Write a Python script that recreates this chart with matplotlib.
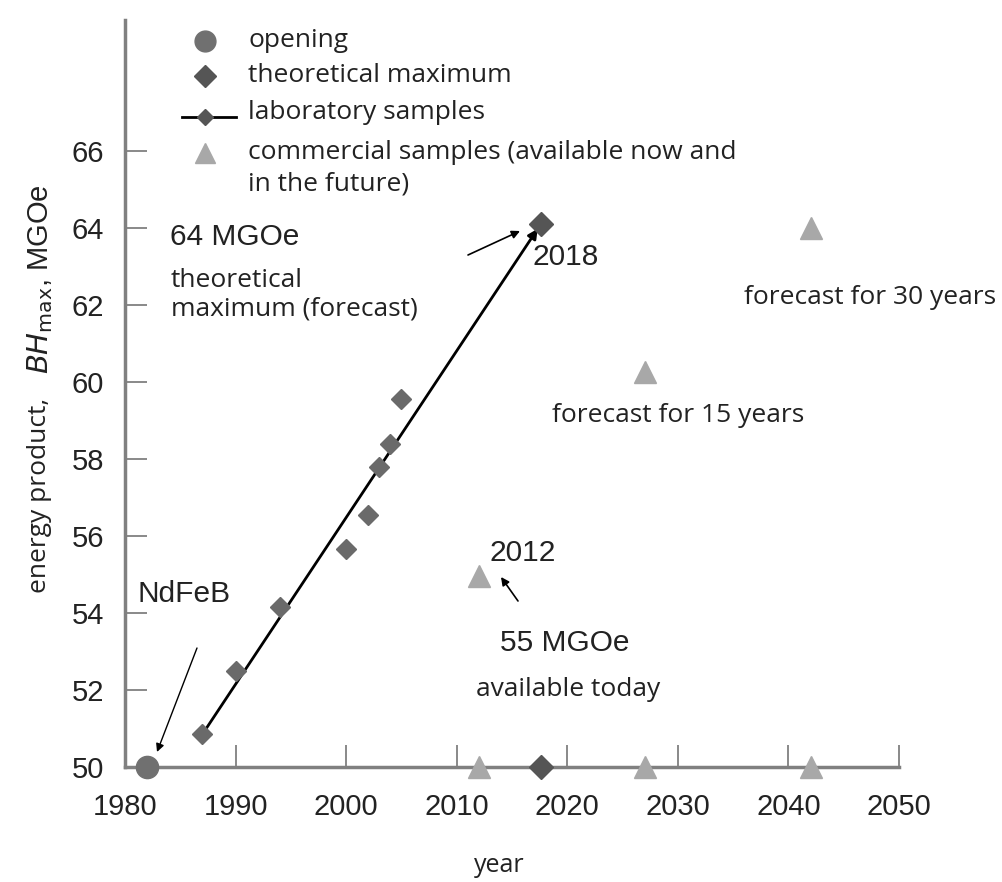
import matplotlib
matplotlib.use("Agg")
import matplotlib.pyplot as plt

# ---- data ----
opening_x = [1982]
opening_y = [50]
theo_x = [2017.6, 2017.6]
theo_y = [50, 64.1]
lab_x = [1987, 1990, 1994, 2000, 2002, 2003, 2004, 2005, 2017.6]
lab_y = [50.85, 52.5, 54.15, 55.65, 56.55, 57.8, 58.4, 59.55, 64.1]
comm_x = [2012, 2027, 2042]
comm_y = [54.95, 60.25, 64.0]
comm_base_x = [2012, 2027, 2042]
comm_base_y = [50, 50, 50]
xticks = [1980, 1990, 2000, 2010, 2020, 2030, 2040, 2050]
yticks = [50, 52, 54, 56, 58, 60, 62, 64, 66]

W, H = 1003, 882
fig = plt.figure(figsize=(W / 100, H / 100), dpi=100)
ax = fig.add_axes([125 / W, 1 - 767 / H, (899 - 125) / W, (767 - 20) / H])
ax.set_xlim(1980, 2050)
ax.set_ylim(50, 50 + (767 - 20) / 38.5)

SANS = "Liberation Sans"
OPEN = "Open Sans"
axis_c = "#808080"
txt_c = "#222222"

for s in ["top", "right"]:
    ax.spines[s].set_visible(False)
for s in ["left", "bottom"]:
    ax.spines[s].set_color(axis_c)
    ax.spines[s].set_linewidth(2.5)
ax.set_xticks(xticks)
ax.set_yticks(yticks)
ax.tick_params(direction="in", length=16, width=1.3, color=axis_c,
               labelsize=21)
ax.tick_params(axis="x", pad=19)
ax.tick_params(axis="y", pad=15)
for lab in ax.get_xticklabels() + ax.get_yticklabels():
    lab.set_fontfamily(SANS)
    lab.set_color(txt_c)

# ---- lab sample trend line with arrow ----
ax.annotate("", xy=(lab_x[-1], lab_y[-1]), xytext=(lab_x[0], lab_y[0]),
            arrowprops=dict(arrowstyle="-|>", color="black", lw=2,
                            mutation_scale=14, shrinkA=0, shrinkB=4),
            zorder=3)

kw = dict(linestyle="none", clip_on=False, zorder=5)
ax.plot(lab_x[:-1], lab_y[:-1], marker="D", ms=10, color="#6a6a6a", **kw)
ax.plot(theo_x, theo_y, marker="D", ms=12, color="#555555", **kw)
ax.plot(opening_x, opening_y, marker="o", ms=16, color="#707070", **kw)
ax.plot(comm_x, comm_y, marker="^", ms=16, color="#a8a8a8", **kw)
ax.plot(comm_base_x, comm_base_y, marker="^", ms=16, color="#a8a8a8", **kw)

# ---- legend (manual) ----
def px2d(x, y):
    return 1980 + (x - 125) / 11.057, 50 + (767 - y) / 38.5

lx, _ = px2d(205, 0)
tx, _ = px2d(248, 0)
_, r1 = px2d(0, 41)
_, r2 = px2d(0, 76)
_, r3 = px2d(0, 113)
_, r4 = px2d(0, 153)
_, r5 = px2d(0, 184)
ax.plot([lx], [r1], marker="o", ms=15, color="#707070", **kw)
ax.plot([lx], [r2], marker="D", ms=11, color="#555555", **kw)
l0, _ = px2d(182, 0)
l1, _ = px2d(236, 0)
ax.plot([l0, l1], [r3 - 0.1, r3 - 0.1], color="black", lw=2, clip_on=False, zorder=4)
ax.plot([lx], [r3 - 0.1], marker="D", ms=8, color="#555555", **kw)
ax.plot([lx], [r4], marker="^", ms=15, color="#a8a8a8", **kw)
tkw = dict(fontfamily=OPEN, fontsize=19, color=txt_c, va="center", ha="left")
ax.text(tx, r1, "opening", **tkw)
ax.text(tx, r2, "theoretical maximum", **tkw)
ax.text(tx, r3, "laboratory samples", **tkw)
ax.text(tx, r4, "commercial samples (available now and", **tkw)
ax.text(tx, r5, "in the future)", **tkw)

# ---- annotations ----
skw = dict(fontfamily=SANS, fontsize=21.5, color=txt_c, va="center", ha="left")
okw = dict(fontfamily=OPEN, fontsize=19, color=txt_c, va="center", ha="left")

ax.text(*px2d(137, 594), "NdFeB", **skw)
ax.annotate("", xy=px2d(157, 752), xytext=px2d(197, 648),
            arrowprops=dict(arrowstyle="-|>", color="black", lw=1.0,
                            mutation_scale=12, shrinkA=0, shrinkB=0))
ax.text(*px2d(170, 237), "64 MGOe", **skw)
ax.text(*px2d(171, 281), "theoretical", **okw)
ax.text(*px2d(171, 309), "maximum (forecast)", **okw)
ax.annotate("", xy=px2d(520, 231), xytext=px2d(468, 255),
            arrowprops=dict(arrowstyle="-|>", color="black", lw=1.2,
                            mutation_scale=12, shrinkA=0, shrinkB=0))
ax.text(*px2d(532, 257), "2018", **skw)
ax.text(*px2d(744, 298), "forecast for 30 years", **okw)
ax.text(*px2d(552, 416), "forecast for 15 years", **okw)
ax.text(*px2d(489, 553), "2012", **skw)
ax.annotate("", xy=px2d(501, 577), xytext=px2d(518, 601),
            arrowprops=dict(arrowstyle="-|>", color="black", lw=1.2,
                            mutation_scale=12, shrinkA=0, shrinkB=0))
ax.text(*px2d(500, 643), "55 MGOe", **skw)
ax.text(*px2d(476, 690), "available today", **okw)

# ---- axis labels ----
fig.text(499 / W, 1 - 866 / H, "year", fontfamily=OPEN, fontsize=18,
         color=txt_c, ha="center", va="center")
fig.text(40 / W, 1 - 495 / H, "energy product,", fontfamily=OPEN, fontsize=19,
         color=txt_c, ha="center", va="center", rotation=90)
fig.text(40 / W, 1 - 279 / H, r"$\it{BH}_{\rm max}$, MGOe", fontfamily=SANS,
         fontsize=21, color=txt_c, ha="center", va="center", rotation=90)

fig.savefig("out.png", dpi=100)
